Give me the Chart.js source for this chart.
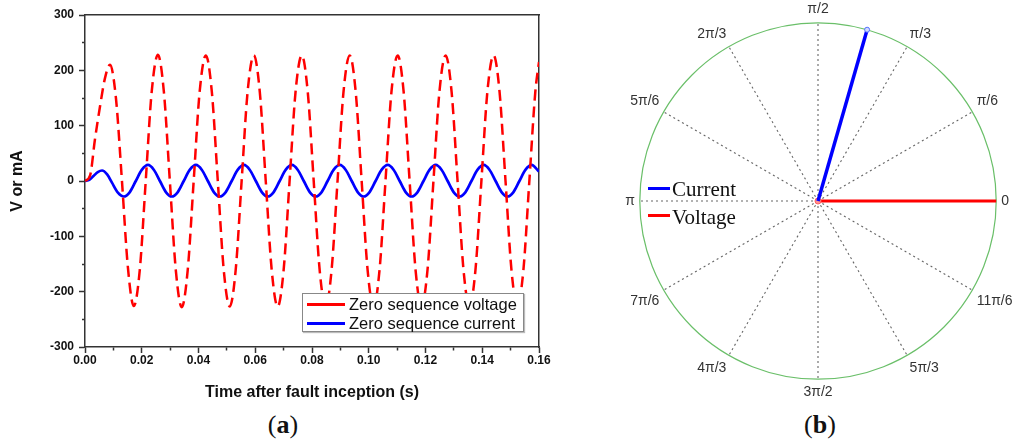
<!DOCTYPE html>
<html>
<head>
<meta charset="utf-8">
<script src="https://cdn.jsdelivr.net/npm/chart.js@4/dist/chart.umd.min.js"></script>
<style>
html,body{margin:0;padding:0;background:#fff;width:1024px;height:446px;overflow:hidden;position:relative;font-family:"Liberation Sans",Arial,sans-serif;}
#wa{position:absolute;left:0;top:0;width:560px;height:405px;}
#wb{position:absolute;left:612px;top:2px;width:412px;height:400px;}
.legA{position:absolute;left:302px;top:293px;width:220px;height:37px;border:1px solid #888;background:#fff;box-shadow:1px 1px 1px #bbb;}
.legA .row{position:absolute;left:0;height:20px;width:220px;}
.legA .sw{position:absolute;left:4px;top:9px;width:38px;height:3px;}
.legA .tx{position:absolute;left:46px;top:0;font-size:16.5px;line-height:20px;color:#111;white-space:nowrap;}
.legB{position:absolute;font-family:"Liberation Serif","Times New Roman",serif;font-size:21px;line-height:24px;color:#111;white-space:nowrap;}
.swB{position:absolute;width:22px;height:3px;}
.cap{position:absolute;top:408px;width:100px;text-align:center;font-family:"Liberation Serif","Times New Roman",serif;font-size:26px;line-height:34px;color:#111;}
</style>
</head>
<body>
<div id="wa"><canvas id="ca"></canvas></div>
<div id="wb"><canvas id="cb"></canvas></div>

<div class="legA">
  <div class="row" style="top:0px"><div class="sw" style="background:#ff0000"></div><div class="tx" id="lv"></div></div>
  <div class="row" style="top:19px"><div class="sw" style="background:#0000ff"></div><div class="tx" id="li"></div></div>
</div>

<div class="swB" style="left:648px;top:187px;background:#0000ff"></div>
<div class="legB" id="lbc" style="left:672px;top:177px"></div>
<div class="swB" style="left:648px;top:214px;background:#ff0000"></div>
<div class="legB" id="lbv" style="left:672px;top:205px"></div>

<div class="cap" style="left:233px">(<b>a</b>)</div>
<div class="cap" style="left:770px">(<b>b</b>)</div>

<script>
// ---------- Panel (a) data ----------
const seriesNames = ['Zero sequence voltage', 'Zero sequence current'];
const xTitle = 'Time after fault inception (s)';
const yTitle = 'V or mA';

const timeV = [
  0, 0.0018, 0.0035, 0.0053, 0.0070, 0.0088, 0.0109, 0.0130, 0.0151,
  0.0172, 0.0193, 0.0214, 0.0235, 0.0257, 0.0278, 0.0299, 0.0320,
  0.0341, 0.0362, 0.0383, 0.0404, 0.0426, 0.0447, 0.0468, 0.0489,
  0.0510, 0.0531, 0.0552, 0.0573, 0.0595, 0.0616, 0.0637, 0.0658,
  0.0679, 0.0700, 0.0721, 0.0742, 0.0764, 0.0785, 0.0806, 0.0827,
  0.0848, 0.0869, 0.0890, 0.0911, 0.0933, 0.0954, 0.0975, 0.0996,
  0.1017, 0.1038, 0.1059, 0.1080, 0.1102, 0.1123, 0.1144, 0.1165,
  0.1186, 0.1207, 0.1228, 0.1249, 0.1271, 0.1292, 0.1313, 0.1334,
  0.1355, 0.1376, 0.1397, 0.1418, 0.1440, 0.1461, 0.1482, 0.1503,
  0.1524, 0.1545, 0.1566, 0.1587, 0.1600
];
const voltage = [
  0, 10, 75, 135, 185, 210, 150, 2, -155,
  -226, -161, 0, 161, 228, 161, 0, -161,
  -228, -161, 0, 161, 227, 161, 0, -161,
  -227, -161, 0, 161, 227, 161, 0, -161,
  -227, -161, 0, 161, 227, 161, 0, -161,
  -227, -161, 0, 161, 227, 161, 0, -161,
  -227, -161, 0, 161, 227, 161, 0, -161,
  -227, -161, 0, 161, 227, 161, 0, -161,
  -227, -161, 0, 161, 227, 161, 0, -161,
  -227, -161, 0, 161, 215
];

const timeI = [
  0, 0.0015, 0.0030, 0.0045, 0.0060, 0.0078, 0.0095, 0.0116,
  0.0137, 0.0158, 0.0179, 0.0200, 0.0222, 0.0243, 0.0264, 0.0285,
  0.0306, 0.0327, 0.0348, 0.0369, 0.0391, 0.0412, 0.0433, 0.0454,
  0.0475, 0.0496, 0.0517, 0.0538, 0.0560, 0.0581, 0.0602, 0.0623,
  0.0644, 0.0665, 0.0686, 0.0707, 0.0729, 0.0750, 0.0771, 0.0792,
  0.0813, 0.0834, 0.0855, 0.0876, 0.0898, 0.0919, 0.0940, 0.0961,
  0.0982, 0.1003, 0.1024, 0.1045, 0.1067, 0.1088, 0.1109, 0.1130,
  0.1151, 0.1172, 0.1193, 0.1214, 0.1236, 0.1257, 0.1278, 0.1299,
  0.1320, 0.1341, 0.1362, 0.1383, 0.1405, 0.1426, 0.1447, 0.1468,
  0.1489, 0.1510, 0.1531, 0.1552, 0.1574, 0.1595, 0.1600
];
const current = [
  0, 2, 9, 16, 19, 12, -3, -21,
  -28, -20, 0, 20, 29, 20, 0, -20,
  -28, -20, 0, 20, 29, 20, 0, -20,
  -28, -20, 0, 20, 29, 20, 0, -20,
  -28, -20, 0, 20, 29, 20, 0, -20,
  -28, -20, 0, 20, 29, 20, 0, -20,
  -28, -20, 0, 20, 29, 20, 0, -20,
  -28, -20, 0, 20, 29, 20, 0, -20,
  -28, -20, 0, 20, 29, 20, 0, -20,
  -28, -20, 0, 20, 29, 20, 17
];

// ---------- Panel (b) data ----------
const angleLabels = ['π/2', 'π/3', 'π/6', '0', '11π/6', '5π/3', '3π/2', '4π/3', '7π/6', 'π', '5π/6', '2π/3']; // clockwise from top
const phasorNames = ['Current', 'Voltage'];
const phasorAngleDeg = [74, 0];
const phasorMagnitude = [1, 1];

// ---------- build ----------
const SANS = '"Liberation Sans", Arial, sans-serif';
Chart.defaults.font.family = SANS;

document.getElementById('lv').textContent = seriesNames[0];
document.getElementById('li').textContent = seriesNames[1];
document.getElementById('lbc').textContent = phasorNames[0];
document.getElementById('lbv').textContent = phasorNames[1];

const toXY = (ts, vs) => ts.map((t, i) => ({x: t, y: vs[i]}));
const axisColor = '#333';

new Chart(document.getElementById('ca'), {
  type: 'line',
  data: {
    datasets: [
      {label: seriesNames[0], data: toXY(timeV, voltage), borderColor: '#ff0000', borderWidth: 2.5,
       borderDash: [11, 6], pointRadius: 0, cubicInterpolationMode: 'monotone', fill: false},
      {label: seriesNames[1], data: toXY(timeI, current), borderColor: '#0000ff', borderWidth: 2.7,
       pointRadius: 0, cubicInterpolationMode: 'monotone', fill: false}
    ]
  },
  options: {
    responsive: true, maintainAspectRatio: false, animation: false,
    layout: {padding: 0},
    plugins: {legend: {display: false}, tooltip: {enabled: false}},
    scales: {
      x: {
        type: 'linear', position: 'bottom', min: 0, max: 0.16,
        afterFit: s => { s.height = 58; },
        ticks: {stepSize: 0.01, autoSkip: false, maxRotation: 0, padding: 0, color: '#111',
                font: {size: 12, weight: 'bold'},
                callback: (v, i) => (i % 2 === 0 ? Number(v).toFixed(2) : '')},
        grid: {drawOnChartArea: false, drawTicks: true, tickLength: 6, tickColor: axisColor, tickWidth: 1.5,
               tickBorderDash: c => (c.index % 2 ? [3, 50] : [])},
        border: {display: true, color: axisColor, width: 1.5},
        title: {display: true, text: xTitle, color: '#111', font: {size: 16, weight: 'bold'}, padding: {top: 0, bottom: 3}}
      },
      y: {
        type: 'linear', position: 'left', min: -300, max: 300,
        afterFit: s => { s.width = 85; },
        ticks: {stepSize: 50, autoSkip: false, padding: 5, color: '#111',
                font: {size: 12, weight: 'bold'},
                callback: v => (v % 100 === 0 ? String(v) : '')},
        grid: {drawOnChartArea: false, drawTicks: true, tickLength: 6, tickColor: axisColor, tickWidth: 1.5,
               tickBorderDash: c => (c.index % 2 ? [0, 3, 3, 50] : [])},
        border: {display: true, color: axisColor, width: 1.5},
        title: {display: true, text: yTitle, color: '#111', font: {size: 16, weight: 'bold'}, padding: {top: 8, bottom: 0}}
      },
      xTop: {
        type: 'linear', position: 'top', min: 0, max: 0.16,
        afterFit: s => { s.height = 15; },
        ticks: {display: false}, grid: {display: false},
        border: {display: true, color: axisColor, width: 1.5}
      },
      yRight: {
        type: 'linear', position: 'right', min: -300, max: 300,
        afterFit: s => { s.width = 21; },
        ticks: {display: false}, grid: {display: false},
        border: {display: true, color: axisColor, width: 1.5}
      }
    }
  }
});

// radar with one-degree label slots; only every 30th slot carries a label
const N = 360;
const radarLabels = [];
for (let i = 0; i < N; i++) radarLabels.push(i % 30 === 0 ? angleLabels[i / 30] : '');
const phasorIndex = phasorAngleDeg.map(a => ((90 - a) % N + N) % N);
const phasorData = phasorIndex.map((idx, k) => {
  const arr = new Array(N).fill(null);
  arr[idx] = phasorMagnitude[k];
  arr[(idx + 1) % N] = 0;
  return arr;
});

new Chart(document.getElementById('cb'), {
  type: 'radar',
  data: {
    labels: radarLabels,
    datasets: [
      {label: phasorNames[0], data: phasorData[0], borderColor: '#0000ff', borderWidth: 3.5, fill: false,
       backgroundColor: 'rgba(0,0,0,0)', spanGaps: false,
       pointRadius: c => (c.dataIndex === phasorIndex[0] ? 2.5 : 0),
       pointBorderColor: '#5070ff', pointBackgroundColor: '#d0d8ff', pointBorderWidth: 1},
      {label: phasorNames[1], data: phasorData[1], borderColor: '#ff0000', borderWidth: 3, fill: false,
       backgroundColor: 'rgba(0,0,0,0)', spanGaps: false,
       pointRadius: c => (c.dataIndex === (phasorIndex[1] + 1) % N ? 3 : 0),
       pointBorderColor: '#ff6060', pointBackgroundColor: '#ff9090', pointBorderWidth: 1}
    ]
  },
  options: {
    responsive: true, maintainAspectRatio: false, animation: false,
    layout: {padding: 0},
    plugins: {legend: {display: false}, tooltip: {enabled: false}},
    elements: {line: {tension: 0}},
    scales: {
      r: {
        min: 0, max: 1, startAngle: 0,
        ticks: {display: false, stepSize: 1},
        grid: {circular: true, color: '#6abf69', lineWidth: 1.2},
        angleLines: {display: true, color: '#666', borderDash: [2, 3],
                     lineWidth: c => (c.index % 30 === 0 ? 1.1 : 0)},
        pointLabels: {display: true, color: '#333', padding: 5, font: {size: 14}}
      }
    }
  }
});
</script>
</body>
</html>
